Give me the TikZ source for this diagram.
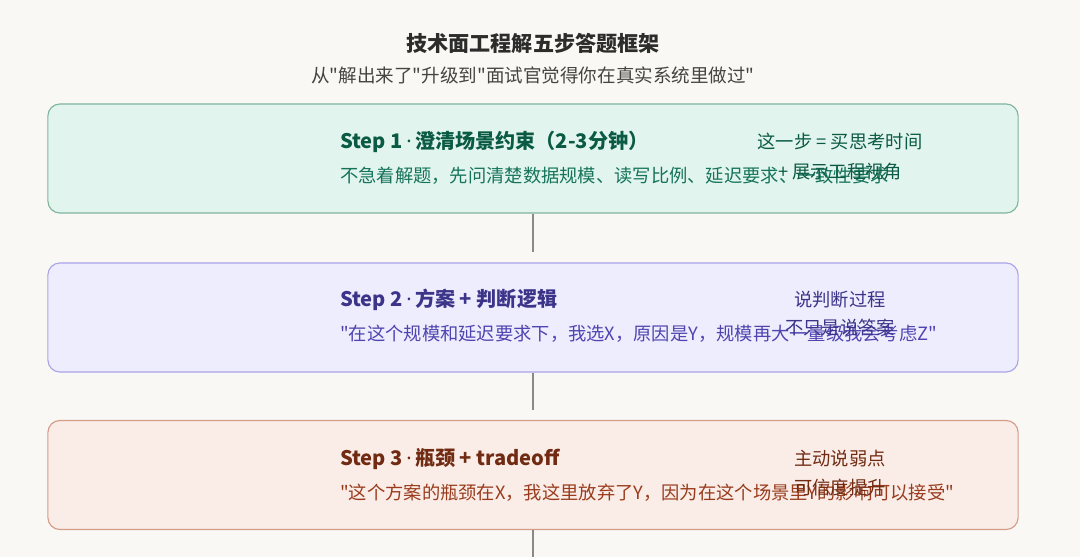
\documentclass[tikz,border=0pt]{standalone}
\usepackage{fontspec}
\setmainfont{Noto Sans CJK SC}[Ligatures=TeXOff]
\newfontfamily\latinfont{Noto Sans}
\usetikzlibrary{positioning}

\definecolor{bg}{HTML}{F9F8F5}
\definecolor{headtext}{HTML}{2C2C2A}
\definecolor{subtext}{HTML}{444441}
\definecolor{linkgray}{HTML}{8A8984}
\definecolor{greenfill}{HTML}{E1F5EE}
\definecolor{greenline}{HTML}{7FB59C}
\definecolor{greentitle}{HTML}{0B5A44}
\definecolor{greentext}{HTML}{16735A}
\definecolor{purplefill}{HTML}{EEEDFE}
\definecolor{purpleline}{HTML}{AAA4E6}
\definecolor{purpletitle}{HTML}{3C3489}
\definecolor{purpletext}{HTML}{4F44B0}
\definecolor{redfill}{HTML}{FAECE7}
\definecolor{redline}{HTML}{D59C88}
\definecolor{redtitle}{HTML}{712B13}
\definecolor{redtext}{HTML}{993C1D}

\newcommand{\middot}{\,{\latinfont\bfseries ·}\,}

\begin{document}
\begin{tikzpicture}[x=0.025cm,y=-0.025cm,
	stepbox/.style={draw,line width=0.8pt,rounded corners=0.3cm,minimum width=24.25cm,minimum height=2.725cm},
	steptitle/.style={anchor=west,inner sep=0pt,font=\fontsize{14.3}{16}\selectfont\bfseries},
	stepbody/.style={anchor=west,inner sep=0pt,font=\fontsize{13}{15}\selectfont},
	stepnote/.style={inner sep=0pt,font=\fontsize{13}{15}\selectfont},
	link/.style={line width=1.4pt,color=linkgray}]

\useasboundingbox (0,0) rectangle (1080,557);
\fill[color=bg] (0,0) rectangle (1080,557);

% heading
\node[text=headtext,font=\fontsize{15}{18}\selectfont\bfseries] (head) at (533,43) {技术面工程解五步答题框架};
\node[text=subtext,font=\fontsize{13.2}{16}\selectfont] (subhead) at (533,75) {从"解出来了"升级到"面试官觉得你在真实系统里做过"};

% step 1
\node[stepbox,fill=greenfill,draw=greenline] (box1) at (533,158.5) {};
\node[steptitle,text=greentitle] (title1) at (340,142) {Step 1\middot 澄清场景约束（2-3分钟）};
\node[stepbody,text=greentext] (body1) at (340,176) {不急着解题，先问清楚数据规模、读写比例、延迟要求、一致性要求};
\node[stepnote,text=greentitle] (note1a) at (840,142) {这一步 = 买思考时间};
\node[stepnote,text=greentitle] (note1b) at (840,172) {+ 展示工程视角};

% step 2
\node[stepbox,fill=purplefill,draw=purpleline] (box2) at (533,317.5) {};
\node[steptitle,text=purpletitle] (title2) at (340,300) {Step 2\middot 方案 + 判断逻辑};
\node[stepbody,text=purpletext] (body2) at (340,334) {"在这个规模和延迟要求下，我选X，原因是Y，规模再大一量级我会考虑Z"};
\node[stepnote,text=purpletitle] (note2a) at (840,300) {说判断过程};
\node[stepnote,text=purpletitle] (note2b) at (840,328) {不只是说答案};

% step 3
\node[stepbox,fill=redfill,draw=redline] (box3) at (533,475) {};
\node[steptitle,text=redtitle] (title3) at (340,459) {Step 3\middot 瓶颈 + tradeoff};
\node[stepbody,text=redtext] (body3) at (340,493) {"这个方案的瓶颈在X，我这里放弃了Y，因为在这个场景里Y的影响可以接受"};
\node[stepnote,text=redtitle] (note3a) at (840,459) {主动说弱点};
\node[stepnote,text=redtitle] (note3b) at (840,488) {可信度提升};

% links
\coordinate (end1) at (533,252);
\coordinate (end2) at (533,410);
\coordinate (end3) at (533,560);
\draw[link] (box1.south)--(end1);
\draw[link] (box2.south)--(end2);
\draw[link] (box3.south)--(end3);

\end{tikzpicture}
\end{document}
